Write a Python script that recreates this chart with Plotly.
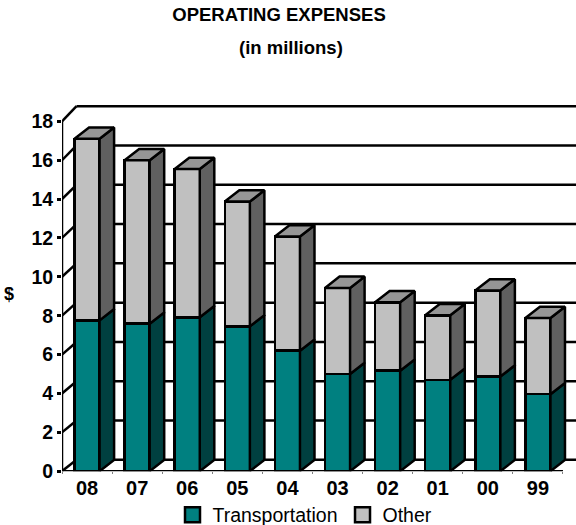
import plotly.graph_objects as go

categories = ["08", "07", "06", "05", "04", "03", "02", "01", "00", "99"]
transportation = [7.76, 7.59, 7.92, 7.45, 6.2, 5.0, 5.17, 4.7, 4.87, 3.96]
totals = [17.1, 16.0, 15.55, 13.87, 12.07, 9.43, 8.69, 8.02, 9.3, 7.88]
other = [round(t - a, 2) for t, a in zip(totals, transportation)]
y_ticks = list(range(0, 19, 2))

W, H = 576, 525
FONT = "Liberation Sans, Arial, sans-serif"
TEAL, TEAL_SIDE = "#008080", "#004040"
GRAY, GRAY_SIDE, GRAY_TOP = "#C0C0C0", "#606060", "#969696"

# depth projection, in axis units
BAR_W = 0.5
DX = 0.29
BAR_DY = 0.58
X_MAX = 9.76
Y_MAX = 19.2
PLOT_H = 493.5  # plot height left once the legend has reserved its margin


def back_y(v):
    return 0.584 + v * 1.0108


fig = go.Figure()

xs = list(range(len(categories)))
fig.add_bar(x=xs, y=transportation, width=BAR_W, marker=dict(color=TEAL, line=dict(color="black", width=2.5)), showlegend=False)
fig.add_bar(x=xs, y=other, width=BAR_W, marker=dict(color=GRAY, line=dict(color="black", width=2.5)), showlegend=False)


def poly(px, py, color):
    fig.add_scatter(x=px + px[:1], y=py + py[:1], mode="lines", fill="toself", fillcolor=color,
                    line=dict(color="black", width=2.5), hoverinfo="skip", showlegend=False)


for i, (a, t) in enumerate(zip(transportation, totals)):
    r = i + BAR_W / 2
    l = i - BAR_W / 2
    poly([r, r + DX, r + DX, r], [0, BAR_DY, a + BAR_DY, a], TEAL_SIDE)
    poly([r, r + DX, r + DX, r], [a, a + BAR_DY, t + BAR_DY, t], GRAY_SIDE)
    poly([l, r, r + DX, l + DX], [t, t, t + BAR_DY, t + BAR_DY], GRAY_TOP)

fig.add_scatter(x=[None], y=[None], mode="markers", name="Transportation",
                marker=dict(symbol="square", size=15, color=TEAL, line=dict(color="black", width=2.5)))
fig.add_scatter(x=[None], y=[None], mode="markers", name="Other",
                marker=dict(symbol="square", size=15, color=GRAY, line=dict(color="black", width=2.5)))

shapes = []
LINE = dict(color="black", width=2.5)
for v in y_ticks:
    shapes.append(dict(type="line", xref="x", yref="y", layer="below", x0=-0.5 + DX, x1=X_MAX,
                       y0=back_y(v), y1=back_y(v), line=LINE))
    shapes.append(dict(type="line", xref="x", yref="y", layer="below", x0=-0.5, x1=-0.5 + DX,
                       y0=v, y1=back_y(v), line=LINE))
shapes.append(dict(type="line", xref="x", yref="y", layer="below", x0=-0.5, x1=-0.5, y0=0, y1=y_ticks[-1], line=LINE))
shapes.append(dict(type="line", xref="x", yref="y", layer="below", x0=-0.5, x1=9.5, y0=0, y1=0, line=LINE))

annotations = [
    dict(text="<b>(in millions)</b>", xref="paper", yref="paper",
         x=291 / W, y=(PLOT_H - 47) / PLOT_H, showarrow=False,
         font=dict(family=FONT, size=18.5, color="black"), xanchor="center", yanchor="middle"),
    dict(text="<b>$</b>", xref="paper", yref="paper", x=9 / W, y=(PLOT_H - 293) / PLOT_H, showarrow=False,
         font=dict(family=FONT, size=18, color="black"), xanchor="center", yanchor="middle"),
]

fig.update_layout(
    width=W, height=H, autosize=False,
    margin=dict(l=0, r=0, t=0, b=0),
    paper_bgcolor="white", plot_bgcolor="white",
    barmode="stack",
    title=dict(text="<b>OPERATING EXPENSES</b>", x=279 / W, xanchor="center", xref="paper",
               y=1 - 15 / H, yanchor="middle", yref="container",
               font=dict(family=FONT, size=18.5, color="black")),
    xaxis=dict(domain=[62 / W, 1], range=[-0.5, X_MAX], tickmode="array", tickvals=xs, ticktext=categories,
               automargin=False, ticklabelstandoff=-3,
               showgrid=False, zeroline=False, showline=False, ticks="outside", ticklen=2, tickcolor="rgba(0,0,0,0)",
               tickfont=dict(family=FONT, size=20, color="black", weight="bold"),
               minor=dict(tickmode="array", tickvals=[i - 0.5 for i in range(11)], ticks="outside", ticklen=2,
                          tickcolor="#808080", tickwidth=1, showgrid=False)),
    yaxis=dict(domain=[(PLOT_H - 469.3) / PLOT_H, (PLOT_H - 469.3 + Y_MAX * 19.36) / PLOT_H], range=[0, Y_MAX],
               automargin=False,
               tickmode="array", tickvals=y_ticks, showgrid=False, zeroline=False, showline=False,
               ticks="outside", ticklen=4, tickwidth=2.5, tickcolor="black",
               tickfont=dict(family=FONT, size=19.5, color="black", weight="bold")),
    legend=dict(orientation="h", xref="container", yref="container", x=305 / W, xanchor="center",
                y=1 - 515 / H, yanchor="middle", traceorder="normal",
                font=dict(family=FONT, size=19.5, color="black"), bgcolor="rgba(0,0,0,0)",
                itemwidth=30, itemclick=False, itemdoubleclick=False),
    shapes=shapes,
    annotations=annotations,
)

fig.write_html("out.html", config=dict(displayModeBar=False), post_script="document.body.style.margin='0';")
